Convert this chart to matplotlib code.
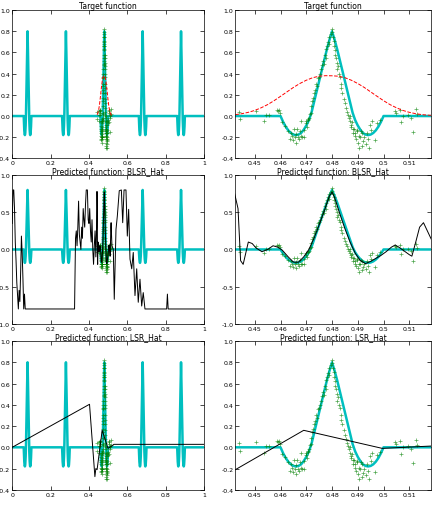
import numpy as np
import matplotlib
matplotlib.use("Agg")
import matplotlib.pyplot as plt

# hat shape: offset from centre -> value
hat_offsets = [0.000, 0.001, 0.002, 0.003, 0.004, 0.005, 0.006, 0.007, 0.008, 0.009,
               0.010, 0.011, 0.012, 0.013, 0.014, 0.015, 0.016, 0.017, 0.018, 0.019, 0.020]
hat_values = [0.80, 0.72, 0.63, 0.53, 0.43, 0.33, 0.23, 0.13, 0.03, -0.04,
              -0.09, -0.13, -0.16, -0.175, -0.18, -0.175, -0.16, -0.135, -0.10, -0.055, 0.0]
hat_centers = [0.08, 0.28, 0.48, 0.68, 0.88]

# noisy training samples
sample_x = [0.4440, 0.4443, 0.4505, 0.4535, 0.4545, 0.4555, 0.4585, 0.4590, 0.4595, 0.4598,
            0.4605, 0.4618, 0.4630, 0.4635, 0.4640, 0.4645, 0.4650, 0.4652, 0.4655, 0.4660,
            0.4662, 0.4665, 0.4668, 0.4672, 0.4675, 0.4678, 0.4680, 0.4685, 0.4690, 0.4693,
            0.4698, 0.4700, 0.4703, 0.4705, 0.4708, 0.4712, 0.4715,
            0.4718, 0.4720, 0.4723, 0.4727, 0.4730, 0.4733, 0.4737, 0.4740, 0.4745, 0.4750,
            0.4755, 0.4758, 0.4762, 0.4765, 0.4768, 0.4772, 0.4775, 0.4778, 0.4782, 0.4785,
            0.4788, 0.4790, 0.4795, 0.4798, 0.4800,
            0.4803, 0.4806, 0.4808, 0.4810, 0.4812, 0.4815, 0.4818, 0.4820, 0.4823, 0.4826,
            0.4830, 0.4833, 0.4836, 0.4840, 0.4845, 0.4850, 0.4855, 0.4858, 0.4862, 0.4865,
            0.4868, 0.4870,
            0.4872, 0.4875, 0.4878, 0.4880, 0.4883, 0.4885, 0.4888, 0.4890, 0.4892, 0.4895,
            0.4898, 0.4900, 0.4903, 0.4905, 0.4908, 0.4912, 0.4915, 0.4918, 0.4922, 0.4925,
            0.4930, 0.4935, 0.4940, 0.4945, 0.4948, 0.4952, 0.4955, 0.4965, 0.4975, 0.4985,
            0.5045, 0.5050, 0.5065, 0.5068, 0.5075, 0.5095, 0.5108, 0.5125, 0.5130, 0.5115]
sample_y = [0.04, -0.03, 0.05, -0.05, 0.01, 0.01, 0.06, 0.05, 0.06, 0.03,
            -0.06, -0.09, -0.14, -0.22, -0.16, -0.19, -0.23, -0.12, -0.20, -0.17,
            -0.25, -0.12, -0.20, -0.22, -0.14, -0.19, -0.05, -0.20, -0.13, -0.20,
            -0.07, -0.05, -0.10, -0.03, -0.04, -0.02, 0.02,
            0.03, 0.09, 0.14, 0.17, 0.22, 0.25, 0.30, 0.28, 0.36, 0.37,
            0.40, 0.44, 0.48, 0.52, 0.49, 0.58, 0.55, 0.63, 0.66, 0.70,
            0.68, 0.75, 0.77, 0.82, 0.79,
            0.75, 0.71, 0.66, 0.62, 0.58, 0.55, 0.50, 0.44, 0.47, 0.40,
            0.37, 0.30, 0.26, 0.22, 0.16, 0.12, 0.08, 0.04, 0.01, -0.02,
            0.00, -0.05,
            -0.08, -0.10, -0.06, -0.12, -0.16, -0.12, -0.19, -0.16, -0.22, -0.14,
            -0.13, -0.25, -0.19, -0.30, -0.20, -0.14, -0.28, -0.16, -0.24, -0.20,
            -0.26, -0.16, -0.22, -0.30, -0.08, -0.13, -0.05, -0.23, -0.07, -0.04,
            0.05, 0.03, 0.06, -0.06, 0.00, 0.01, -0.02, 0.07, 0.02, -0.15]

# red dashed bump (top row)
bump_x = [0.4425, 0.445, 0.4475, 0.450, 0.4525, 0.455, 0.4575, 0.460, 0.4625, 0.465,
          0.4675, 0.470, 0.4725, 0.475, 0.4775, 0.480, 0.4825, 0.485, 0.4875, 0.490,
          0.4925, 0.495, 0.4975, 0.500, 0.5025, 0.505, 0.5075, 0.510, 0.5125, 0.515, 0.5185]
bump_y = [0.013, 0.022, 0.035, 0.053, 0.078, 0.108, 0.145, 0.186, 0.228, 0.270,
          0.307, 0.338, 0.362, 0.376, 0.381, 0.380, 0.376, 0.362, 0.338, 0.307,
          0.270, 0.228, 0.186, 0.145, 0.108, 0.078, 0.053, 0.035, 0.022, 0.013, 0.006]

# BLSR_Hat prediction
blsr_x = [0.000, 0.004, 0.008, 0.012, 0.016, 0.020, 0.024, 0.028, 0.032, 0.036,
          0.040, 0.044, 0.048, 0.052, 0.056, 0.060, 0.064, 0.068, 0.080, 0.325,
          0.330, 0.334, 0.338, 0.342, 0.346, 0.350, 0.354, 0.358, 0.362, 0.366,
          0.370, 0.374, 0.378, 0.382, 0.386, 0.392, 0.396, 0.400, 0.404, 0.408,
          0.412, 0.416, 0.420, 0.424, 0.428, 0.432, 0.436, 0.440,
          0.4420, 0.4435, 0.4445, 0.4455, 0.4465, 0.4475, 0.4490, 0.4505, 0.4528, 0.4550,
          0.4571, 0.4590, 0.4607, 0.4630, 0.4650, 0.4670, 0.4690, 0.4710, 0.4730, 0.4750,
          0.4770, 0.4790, 0.4800, 0.4810, 0.4830, 0.4850, 0.4870, 0.4890, 0.4910, 0.4930,
          0.4950, 0.4970, 0.4990, 0.5010, 0.5030, 0.5045, 0.5060, 0.5080, 0.5100, 0.5110,
          0.5125, 0.5140, 0.5155, 0.5170, 0.5185, 0.5200,
          0.527, 0.532, 0.541, 0.548, 0.558, 0.569, 0.576, 0.583, 0.593, 0.600,
          0.607, 0.614, 0.623, 0.631, 0.640, 0.649, 0.657, 0.666, 0.675, 0.683,
          0.692, 0.805, 0.809, 0.813, 1.000]
blsr_y = [0.35, 0.80, 0.80, 0.55, 0.10, -0.15, -0.45, -0.62, -0.80, -0.55,
          -0.70, -0.30, 0.18, -0.05, -0.40, -0.80, -0.60, -0.80, -0.80, -0.80,
          0.15, 0.25, 0.05, 0.30, 0.65, 0.20, 0.10, 0.00, 0.30, 0.15,
          0.55, 0.40, 0.30, 0.60, 0.80, 0.80, 0.40, 0.35, 0.55, 0.25,
          0.10, 0.40, 0.00, -0.20, 0.05, 0.25, -0.10, 0.30,
          0.78, 0.55, -0.15, -0.20, -0.05, 0.10, 0.08, 0.02, -0.03, 0.00,
          0.05, 0.03, -0.01, -0.10, -0.17, -0.17, -0.10, 0.00, 0.15, 0.33,
          0.52, 0.72, 0.77, 0.70, 0.48, 0.28, 0.10, -0.05, -0.15, -0.19,
          -0.16, -0.12, -0.08, -0.03, 0.03, 0.06, 0.03, -0.02, -0.07, -0.09,
          0.10, 0.30, 0.36, 0.25, 0.14, 0.05,
          0.00, -0.67, 0.27, 0.45, 0.79, 0.80, 0.36, 0.80, 0.80, 0.18,
          0.54, -0.13, -0.26, -0.04, -0.62, -0.26, -0.71, -0.40, -0.76, -0.58,
          -0.80, -0.80, -0.60, -0.80, -0.80]

# LSR_Hat prediction
lsr_x = [0.000, 0.403, 0.431, 0.436, 0.4425, 0.469, 0.4995, 0.5185, 0.530, 1.000]
lsr_y = [0.000, 0.405, -0.276, -0.20, -0.21, 0.16, -0.01, 0.012, 0.028, 0.028]


def main():
    target_x, target_y = build_target()
    fig = plt.figure(figsize=(4.36, 5.06), dpi=100)
    fig.patch.set_facecolor('white')
    rows = [(0.685, 0.293), (0.358, 0.294), (0.030, 0.294)]
    titles = ['Target function', 'Predicted function: BLSR_Hat', 'Predicted function: LSR_Hat']
    for i, (bottom, height) in enumerate(rows):
        ax_left = fig.add_axes([0.028, bottom, 0.440, height])
        ax_right = fig.add_axes([0.540, bottom, 0.449, height])
        for ax in (ax_left, ax_right):
            ax.plot(target_x, target_y, color='c', linewidth=1.8)
            ax.plot(sample_x, sample_y, '+', color='g', markersize=3.5, markeredgewidth=0.5, alpha=0.7)
            if i == 0:
                ax.plot(bump_x, bump_y, 'r--', linewidth=0.7)
            elif i == 1:
                ax.plot(blsr_x, blsr_y, 'k-', linewidth=0.7)
            else:
                ax.plot(lsr_x, lsr_y, 'k-', linewidth=0.7)
            ax.set_title(titles[i], fontsize=5.5, pad=1.5)
            style_axes(ax)
        ax_left.set_xlim(0, 1)
        ax_left.set_xticks(np.arange(0, 1.01, 0.2))
        ax_right.set_xlim(0.4425, 0.5185)
        ax_right.set_xticks(np.arange(0.45, 0.515, 0.01))
        if i == 1:
            for ax in (ax_left, ax_right):
                ax.set_ylim(-1, 1)
                ax.set_yticks(np.arange(-1, 1.01, 0.5))
        else:
            for ax in (ax_left, ax_right):
                ax.set_ylim(-0.4, 1.0)
                ax.set_yticks(np.arange(-0.4, 1.01, 0.2))
    plt.savefig('out.png', dpi=100)


def build_target():
    xs = [0.0]
    ys = [0.0]
    for c in hat_centers:
        for d, v in zip(hat_offsets[::-1], hat_values[::-1]):
            xs.append(c - d)
            ys.append(v)
        for d, v in zip(hat_offsets[1:], hat_values[1:]):
            xs.append(c + d)
            ys.append(v)
    xs.append(1.0)
    ys.append(0.0)
    return xs, ys


def style_axes(ax):
    ax.tick_params(direction='in', labelsize=4.5, length=3, width=0.5, pad=1.5,
                   top=True, right=True)
    for spine in ax.spines.values():
        spine.set_linewidth(0.5)
    ax.xaxis.set_major_formatter(matplotlib.ticker.FormatStrFormatter('%g'))
    ax.yaxis.set_major_formatter(matplotlib.ticker.FormatStrFormatter('%.1f'))


if __name__ == "__main__":
    main()
